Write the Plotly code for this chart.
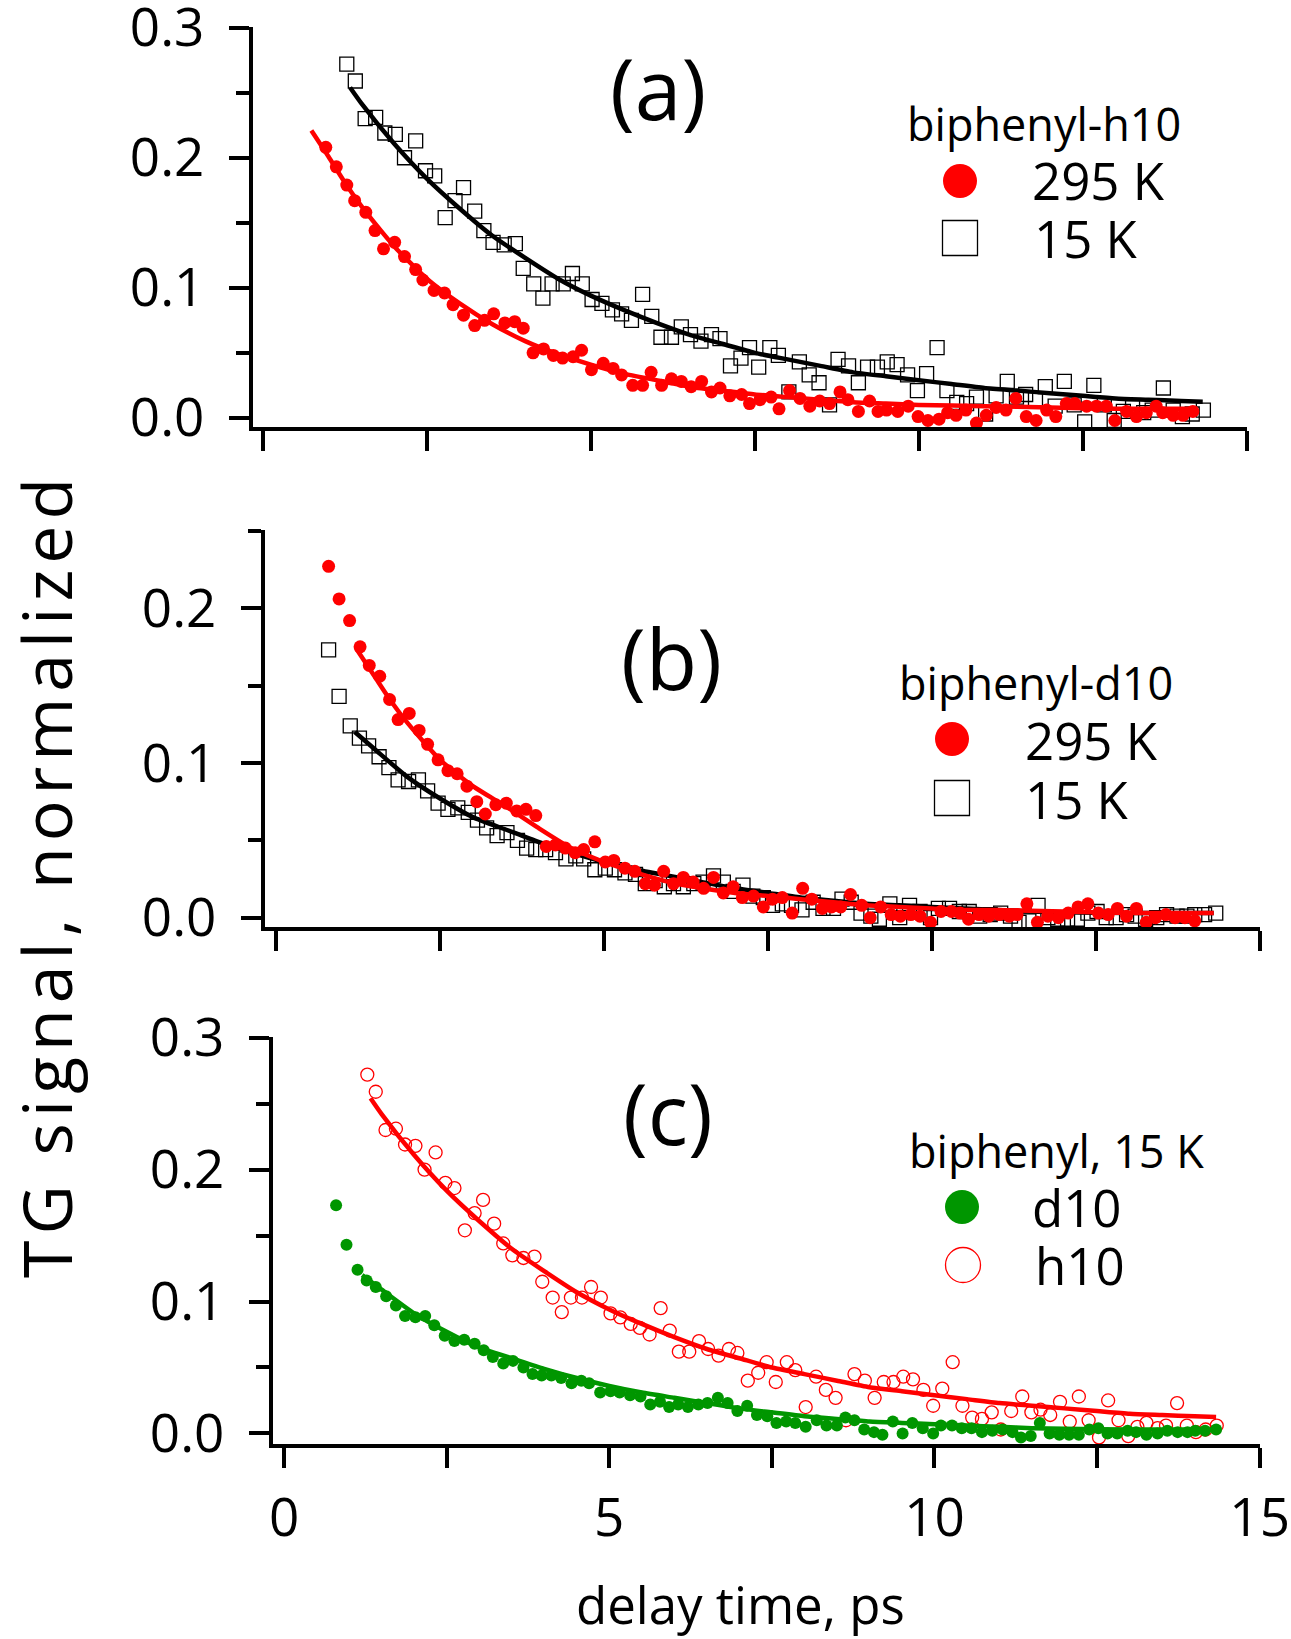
import plotly.graph_objects as go

# ---------------------------------------------------------------------------
# Transient-grating decays of biphenyl, normalized signal vs delay time (ps)
# ---------------------------------------------------------------------------

# biphenyl-h10 at 295 K
h10_295K_t = [0.96, 1.12, 1.28, 1.40, 1.57, 1.71, 1.84, 2.01, 2.16, 2.33, 2.44, 2.61, 2.77, 2.90,
              3.06, 3.23, 3.38, 3.52, 3.69, 3.84, 3.97, 4.12, 4.28, 4.43, 4.57, 4.73, 4.86, 5.01,
              5.19, 5.34, 5.47, 5.64, 5.79, 5.92, 6.08, 6.23, 6.38, 6.53, 6.69, 6.84, 6.97, 7.12,
              7.30, 7.42, 7.58, 7.75, 7.87, 8.03, 8.19, 8.34, 8.49, 8.64, 8.80, 8.92, 9.08, 9.25,
              9.38, 9.51, 9.68, 9.84, 9.99, 10.14, 10.31, 10.44, 10.57, 10.72, 10.88, 11.03, 11.18,
              11.33, 11.48, 11.64, 11.79, 11.95, 12.09, 12.25, 12.38, 12.56, 12.71, 12.86, 12.99,
              13.17, 13.32, 13.47, 13.62, 13.72, 13.88, 14.03, 14.18]
h10_295K_s = [0.208, 0.193, 0.179, 0.167, 0.158, 0.144, 0.130, 0.135, 0.124, 0.114, 0.106, 0.098,
              0.096, 0.087, 0.079, 0.071, 0.075, 0.080, 0.073, 0.074, 0.069, 0.050, 0.053, 0.048,
              0.046, 0.047, 0.052, 0.037, 0.042, 0.038, 0.033, 0.025, 0.025, 0.035, 0.025, 0.030,
              0.028, 0.024, 0.028, 0.020, 0.023, 0.017, 0.018, 0.011, 0.014, 0.016, 0.007, 0.021,
              0.015, 0.009, 0.013, 0.011, 0.020, 0.014, 0.005, 0.013, 0.005, 0.006, 0.005, 0.009,
              0.001, -0.002, -0.001, 0.004, 0.002, 0.006, -0.004, 0.002, 0.008, 0.006, 0.015,
              0.001, -0.002, 0.006, 0.001, 0.011, 0.011, 0.009, 0.009, 0.009, -0.002, 0.005,
              0.001, 0.004, 0.009, 0.004, 0.002, 0.002, 0.005]

# biphenyl-h10 at 15 K
h10_15K_t = [1.28, 1.41, 1.56, 1.72, 1.86, 2.02, 2.16, 2.33, 2.48, 2.62, 2.78, 2.93, 3.06, 3.23,
             3.37, 3.51, 3.68, 3.85, 3.97, 4.13, 4.27, 4.41, 4.58, 4.72, 4.87, 5.02, 5.17, 5.33,
             5.47, 5.62, 5.79, 5.93, 6.07, 6.23, 6.38, 6.52, 6.68, 6.84, 6.97, 7.13, 7.29, 7.42,
             7.56, 7.73, 7.86, 8.02, 8.18, 8.33, 8.48, 8.64, 8.77, 8.93, 9.08, 9.22, 9.37, 9.52,
             9.67, 9.83, 9.98, 10.12, 10.28, 10.43, 10.58, 10.73, 10.88, 11.02, 11.18, 11.35,
             11.49, 11.63, 11.78, 11.93, 12.08, 12.22, 12.37, 12.53, 12.67, 12.83, 12.98, 13.12,
             13.26, 13.43, 13.56, 13.73, 13.88, 14.02, 14.17, 14.34]
h10_15K_s = [0.272, 0.259, 0.230, 0.231, 0.219, 0.218, 0.200, 0.213, 0.190, 0.186, 0.154, 0.167,
             0.177, 0.159, 0.144, 0.135, 0.133, 0.134, 0.115, 0.103, 0.092, 0.103, 0.103, 0.111,
             0.103, 0.091, 0.088, 0.083, 0.080, 0.075, 0.095, 0.078, 0.062, 0.062, 0.070, 0.064,
             0.059, 0.064, 0.061, 0.040, 0.046, 0.054, 0.039, 0.054, 0.048, 0.020, 0.043, 0.033,
             0.027, 0.010, 0.045, 0.040, 0.027, 0.039, 0.039, 0.043, 0.041, 0.033, 0.021, 0.034,
             0.054, 0.021, 0.012, 0.011, 0.016, 0.003, 0.017, 0.028, 0.016, 0.018, 0.014, 0.024,
             0.009, 0.028, 0.010, -0.003, 0.025, 0.010, -0.002, 0.005, 0.008, 0.004, 0.006,
             0.023, 0.006, 0.001, 0.003, 0.006]

# biphenyl-d10 at 295 K
d10_295K_t = [0.80, 0.96, 1.12, 1.28, 1.42, 1.58, 1.73, 1.86, 2.03, 2.18, 2.31, 2.47, 2.62, 2.76,
              2.91, 3.06, 3.19, 3.35, 3.51, 3.67, 3.81, 3.96, 4.12, 4.26, 4.41, 4.56, 4.69, 4.86,
              5.02, 5.15, 5.32, 5.47, 5.63, 5.77, 5.91, 6.06, 6.21, 6.36, 6.52, 6.67, 6.82, 6.97,
              7.11, 7.28, 7.43, 7.57, 7.72, 7.87, 8.03, 8.17, 8.33, 8.47, 8.61, 8.76, 8.93, 9.06,
              9.22, 9.38, 9.52, 9.68, 9.82, 9.98, 10.14, 10.30, 10.43, 10.56, 10.72, 10.87, 11.03,
              11.18, 11.30, 11.45, 11.61, 11.77, 11.93, 12.08, 12.23, 12.38, 12.54, 12.69, 12.83,
              12.97, 13.12, 13.27, 13.41, 13.57, 13.71, 13.86, 14.01]
d10_295K_s = [0.227, 0.206, 0.192, 0.175, 0.163, 0.156, 0.141, 0.128, 0.132, 0.121, 0.112, 0.102,
              0.095, 0.093, 0.085, 0.075, 0.067, 0.073, 0.074, 0.069, 0.070, 0.066, 0.046, 0.047,
              0.045, 0.042, 0.044, 0.049, 0.036, 0.037, 0.032, 0.030, 0.022, 0.021, 0.030, 0.022,
              0.026, 0.023, 0.019, 0.026, 0.016, 0.020, 0.013, 0.014, 0.007, 0.012, 0.013, 0.003,
              0.019, 0.012, 0.006, 0.007, 0.007, 0.015, 0.008, 0.000, 0.007, 0.002, 0.001, 0.002,
              0.001, -0.003, 0.004, 0.004, 0.003, -0.001, 0.002, 0.001, 0.002, 0.001, 0.002,
              0.009, -0.003, 0.001, 0.000, 0.003, 0.007, 0.009, 0.003, 0.002, 0.006, 0.001, 0.006,
              -0.003, 0.000, 0.002, 0.000, 0.000, -0.002]

# biphenyl-d10 at 15 K
d10_15K_t = [0.80, 0.96, 1.13, 1.27, 1.41, 1.57, 1.72, 1.86, 2.02, 2.17, 2.31, 2.47, 2.62, 2.77,
             2.93, 3.07, 3.21, 3.37, 3.52, 3.68, 3.82, 3.96, 4.11, 4.26, 4.42, 4.57, 4.69, 4.86,
             5.02, 5.16, 5.32, 5.48, 5.63, 5.78, 5.92, 6.06, 6.21, 6.37, 6.51, 6.67, 6.82, 6.97,
             7.12, 7.27, 7.43, 7.57, 7.72, 7.86, 8.02, 8.19, 8.34, 8.50, 8.63, 8.77, 8.92, 9.07,
             9.20, 9.36, 9.51, 9.66, 9.82, 9.98, 10.10, 10.27, 10.42, 10.57, 10.73, 10.89, 11.05,
             11.20, 11.33, 11.48, 11.62, 11.77, 11.92, 12.07, 12.22, 12.38, 12.52, 12.66, 12.81,
             12.97, 13.10, 13.26, 13.43, 13.58, 13.74, 13.89, 14.01, 14.16, 14.33]
d10_15K_s = [0.173, 0.143, 0.124, 0.116, 0.111, 0.104, 0.097, 0.089, 0.088, 0.089, 0.082, 0.074,
             0.070, 0.071, 0.068, 0.063, 0.058, 0.053, 0.055, 0.050, 0.045, 0.044, 0.044, 0.042,
             0.038, 0.040, 0.038, 0.031, 0.032, 0.031, 0.029, 0.028, 0.022, 0.024, 0.020, 0.022,
             0.020, 0.022, 0.023, 0.027, 0.023, 0.017, 0.021, 0.014, 0.013, 0.008, 0.009, 0.008,
             0.005, 0.010, 0.006, 0.006, 0.012, 0.010, 0.003, 0.001, -0.001, 0.009, 0.000, 0.008,
             0.004, 0.000, 0.006, 0.006, 0.004, 0.004, 0.001, 0.002, 0.003, 0.001, -0.003,
             -0.002, 0.008, 0.000, -0.001, -0.001, -0.001, 0.003, 0.004, 0.000, 0.000, 0.002,
             0.001, -0.001, 0.000, 0.002, 0.001, 0.001, 0.002, 0.002, 0.003]

# exponential fit curves, sampled
h10_295K_fit_t = [0.74, 1.0, 1.25, 1.5, 1.75, 2.0, 2.5, 3.0, 3.5, 4.0, 4.5, 5.0, 5.5, 6.0, 6.5,
                  7.0, 7.5, 8.0, 8.5, 9.0, 9.5, 10.0, 11.0, 12.0, 13.0, 14.2]
h10_295K_fit_s = [0.221, 0.201, 0.181, 0.163, 0.147, 0.132, 0.107, 0.088, 0.072, 0.059, 0.049,
                  0.041, 0.034, 0.029, 0.024, 0.021, 0.018, 0.016, 0.014, 0.012, 0.011, 0.010,
                  0.009, 0.008, 0.007, 0.007]

h10_15K_fit_t = [1.33, 1.5, 2.0, 2.5, 3.0, 3.5, 4.0, 4.5, 5.0, 5.5, 6.0, 6.5, 7.0, 7.5, 8.0, 8.5,
                 9.0, 9.5, 10.0, 10.5, 11.0, 11.5, 12.0, 12.5, 13.0, 13.5, 14.0, 14.33]
h10_15K_fit_s = [0.254, 0.242, 0.211, 0.184, 0.161, 0.140, 0.123, 0.107, 0.094, 0.083, 0.073,
                 0.064, 0.057, 0.050, 0.045, 0.040, 0.035, 0.032, 0.029, 0.026, 0.023, 0.021,
                 0.019, 0.017, 0.015, 0.014, 0.013, 0.0125]

d10_295K_fit_t = [1.22, 1.5, 1.75, 2.0, 2.5, 3.0, 3.5, 4.0, 4.5, 5.0, 5.5, 6.0, 6.5, 7.0, 7.5,
                  8.0, 8.5, 9.0, 9.5, 10.0, 10.5, 11.0, 12.0, 13.0, 14.3]
d10_295K_fit_s = [0.174, 0.156, 0.140, 0.126, 0.102, 0.085, 0.072, 0.058, 0.045, 0.036, 0.029,
                  0.023, 0.019, 0.016, 0.014, 0.012, 0.010, 0.008, 0.007, 0.006, 0.005, 0.005,
                  0.004, 0.003, 0.003]

d10_15K_fit_t = [1.20, 1.5, 2.0, 2.5, 3.0, 3.5, 4.0, 4.5, 5.0, 5.5, 6.0, 6.5, 7.0, 7.5, 8.0, 8.5,
                 9.0, 9.5, 10.0, 10.5, 11.0, 11.5, 12.0, 13.0, 14.3]
d10_15K_fit_s = [0.120, 0.109, 0.091, 0.077, 0.065, 0.057, 0.049, 0.042, 0.036, 0.031, 0.027,
                 0.023, 0.019, 0.016, 0.013, 0.011, 0.009, 0.008, 0.007, 0.006, 0.005, 0.004,
                 0.0035, 0.003, 0.003]

# axis ticks
x_tickvals = [0, 2.5, 5, 7.5, 10, 12.5, 15]
x_ticktext = ["0", "", "5", "", "10", "", "15"]

panel_labels = ["(a)", "(b)", "(c)"]
legend_titles = ["biphenyl-h10", "biphenyl-d10", "biphenyl, 15 K"]
legend_entries = [["295 K", "15 K"], ["295 K", "15 K"], ["d10", "h10"]]
y_title = "TG signal, normalized"
x_title = "delay time, ps"

RED = "#ff0000"
BLACK = "#000000"
GREEN = "#009600"
FONT = "Open Sans"
W, H = 1291, 1639


def px_x(p):
    return p / W


def px_y(p):
    return 1 - p / H


fig = go.Figure()


def squares(t, s, ax):
    fig.add_trace(go.Scatter(x=t, y=s, mode="markers", xaxis=ax[0], yaxis=ax[1],
                             marker=dict(symbol="square-open", size=14, color=BLACK,
                                         line=dict(width=1.3))))


def dots(t, s, ax, color, size=13):
    fig.add_trace(go.Scatter(x=t, y=s, mode="markers", xaxis=ax[0], yaxis=ax[1],
                             marker=dict(symbol="circle", size=size, color=color,
                                         line=dict(width=0))))


def rings(t, s, ax, color):
    fig.add_trace(go.Scatter(x=t, y=s, mode="markers", xaxis=ax[0], yaxis=ax[1],
                             marker=dict(symbol="circle-open", size=13, color=color,
                                         line=dict(width=1.3))))


def fitline(t, s, ax, color):
    fig.add_trace(go.Scatter(x=t, y=s, mode="lines", xaxis=ax[0], yaxis=ax[1],
                             line=dict(color=color, width=4.5, shape="spline", smoothing=0.6)))


A = ("x", "y")
B = ("x2", "y2")
C = ("x3", "y3")

# (a) biphenyl-h10
squares(h10_15K_t, h10_15K_s, A)
fitline(h10_15K_fit_t, h10_15K_fit_s, A, BLACK)
dots(h10_295K_t, h10_295K_s, A, RED)
fitline(h10_295K_fit_t, h10_295K_fit_s, A, RED)

# (b) biphenyl-d10
squares(d10_15K_t, d10_15K_s, B)
fitline(d10_15K_fit_t, d10_15K_fit_s, B, BLACK)
dots(d10_295K_t, d10_295K_s, B, RED)
fitline(d10_295K_fit_t, d10_295K_fit_s, B, RED)

# (c) biphenyl at 15 K
rings(h10_15K_t, h10_15K_s, C, RED)
fitline(h10_15K_fit_t, h10_15K_fit_s, C, RED)
dots(d10_15K_t, d10_15K_s, C, GREEN, size=12)
fitline(d10_15K_fit_t, d10_15K_fit_s, C, GREEN)

tickfont = dict(family=FONT, size=53, color=BLACK)


def xaxis_style(domain, rng, labels, anchor):
    return dict(domain=domain, range=rng, anchor=anchor, automargin=False,
                showgrid=False, zeroline=False,
                showline=True, linewidth=4, linecolor=BLACK, ticks="outside", ticklen=20,
                tickwidth=4, tickcolor=BLACK, tickvals=x_tickvals,
                ticktext=x_ticktext if labels else [""] * len(x_tickvals),
                tickfont=tickfont, ticklabelstandoff=4, ticklabeloverflow="allow")


def yaxis_style(domain, rng, anchor):
    return dict(domain=domain, range=rng, anchor=anchor, automargin=False,
                showgrid=False, zeroline=False,
                showline=True, linewidth=4, linecolor=BLACK, ticks="outside", ticklen=20,
                tickwidth=4, tickcolor=BLACK, tick0=0, dtick=0.1, tickformat=".1f",
                tickfont=tickfont, ticklabelstandoff=14, ticklabeloverflow="allow",
                minor=dict(ticks="outside", ticklen=13, tickwidth=4, tickcolor=BLACK,
                           dtick=0.05, tick0=0, showgrid=False))


fig.update_layout(
    template="none",
    width=W, height=H,
    margin=dict(l=0, r=0, t=0, b=0, autoexpand=False),
    paper_bgcolor="white", plot_bgcolor="white",
    showlegend=False,
    xaxis=xaxis_style([px_x(253), px_x(1247)], [-0.15, 15.005], False, "y"),
    yaxis=yaxis_style([px_y(427), px_y(27)], [-0.007, 0.3005], "x"),
    xaxis2=xaxis_style([px_x(265), px_x(1260)], [-0.17, 15.005], False, "y2"),
    yaxis2=yaxis_style([px_y(927), px_y(530)], [-0.006, 0.2505], "x2"),
    xaxis3=xaxis_style([px_x(273), px_x(1260)], [-0.17, 15.005], True, "y3"),
    yaxis3=yaxis_style([px_y(1444), px_y(1037)], [-0.008, 0.3005], "x3"),
)

annotations = []
shapes = []


def text(s, x, y, size, xanchor="left", angle=0):
    annotations.append(dict(text=s, x=px_x(x), y=px_y(y), xref="paper", yref="paper",
                            xanchor=xanchor, yanchor="middle", showarrow=False,
                            textangle=angle, font=dict(family=FONT, size=size, color=BLACK)))


def key_circle(cx, cy, d, color, filled):
    shapes.append(dict(type="circle", xref="paper", yref="paper",
                       x0=px_x(cx - d / 2), x1=px_x(cx + d / 2),
                       y0=px_y(cy + d / 2), y1=px_y(cy - d / 2),
                       fillcolor=color if filled else "rgba(0,0,0,0)",
                       line=dict(color=color, width=0 if filled else 1.3)))


def key_square(cx, cy, d):
    shapes.append(dict(type="rect", xref="paper", yref="paper",
                       x0=px_x(cx - d / 2), x1=px_x(cx + d / 2),
                       y0=px_y(cy + d / 2), y1=px_y(cy - d / 2),
                       fillcolor="rgba(0,0,0,0)", line=dict(color=BLACK, width=1.3)))


# panel letters
text(panel_labels[0], 658, 87, 84, "center")
text(panel_labels[1], 671, 657, 84, "center")
text(panel_labels[2], 668, 1112, 84, "center")

# legends
text(legend_titles[0], 905, 124, 45)
key_circle(960, 181, 34, RED, True)
text(legend_entries[0][0], 1030, 180, 51)
key_square(960, 238, 35)
text(legend_entries[0][1], 1032, 238, 51)

text(legend_titles[1], 897, 682, 45)
key_circle(952, 739, 34, RED, True)
text(legend_entries[1][0], 1023, 740, 51)
key_square(952, 798, 35)
text(legend_entries[1][1], 1023, 799, 51)

text(legend_titles[2], 907, 1150, 45)
key_circle(962, 1207, 34, GREEN, True)
text(legend_entries[2][0], 1030, 1207, 51)
key_circle(963, 1265, 35, RED, False)
text(legend_entries[2][1], 1033, 1265, 51)

# axis titles
text(y_title, 46, 875, 68, "center", -90)
text(x_title, 740, 1604, 51, "center")

fig.update_layout(annotations=annotations, shapes=shapes)

# widen the tracking of the vertical axis title
spacing_js = """
var gd = document.getElementById('{plot_id}');
gd.querySelectorAll('.annotation-text').forEach(function (el) {
    if (el.textContent === '%s') { el.style.letterSpacing = '6px'; }
});
""" % y_title

fig.write_html("out.html", post_script=spacing_js)
